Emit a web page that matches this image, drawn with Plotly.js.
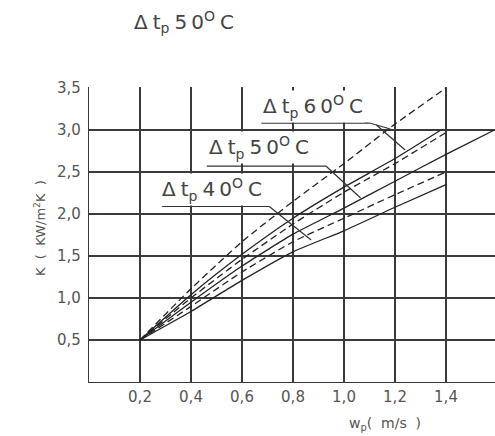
<!DOCTYPE html>
<html>
<head>
<meta charset="utf-8">
<script src="https://cdn.plot.ly/plotly-3.0.1.min.js"></script>
<style>html,body{margin:0;padding:0;background:#fff;}#chart{width:495px;height:436px;}</style>
</head>
<body>
<div id="chart"></div>
<script>
// velocity w_p (m/s)
var xA = [0.2, 0.4, 0.6, 0.8, 1.0, 1.2, 1.4];
var yA = [0.5, 1.11, 1.67, 2.15, 2.60, 3.07, 3.50];   // dashed, top
var xB = [0.2, 0.4, 0.6, 0.8, 1.0, 1.2, 1.38];
var yB = [0.5, 1.04, 1.52, 1.95, 2.32, 2.66, 3.00];   // solid
var xC = [0.2, 0.4, 0.6, 0.8, 1.0, 1.2, 1.4];
var yC = [0.5, 1.00, 1.46, 1.88, 2.26, 2.60, 2.97];   // dashed
var xD = [0.2, 0.4, 0.6, 0.8, 1.0, 1.2, 1.4, 1.59];
var yD = [0.5, 0.95, 1.38, 1.76, 2.07, 2.39, 2.71, 3.00]; // solid
var xE = [0.2, 0.4, 0.6, 0.8, 1.0, 1.2, 1.4];
var yE = [0.5, 0.90, 1.31, 1.67, 1.95, 2.23, 2.50];   // dashed
var xF = [0.2, 0.4, 0.6, 0.8, 1.0, 1.2, 1.4];
var yF = [0.5, 0.84, 1.21, 1.55, 1.80, 2.08, 2.35];   // solid

var xTickVals = [0.2, 0.4, 0.6, 0.8, 1.0, 1.2, 1.4];
var xTickText = ["0,2", "0,4", "0,6", "0,8", "1,0", "1,2", "1,4"];
var yTickVals = [0.5, 1.0, 1.5, 2.0, 2.5, 3.0, 3.5];
var yTickText = ["0,5", "1,0", "1,5", "2,0", "2,5", "3,0", "3,5"];

var ink = "#222";
function tr(x, y, dashed) {
  return {x: x, y: y, mode: "lines", type: "scatter", hoverinfo: "skip",
    line: {color: ink, width: 1.3, shape: "spline", smoothing: 0.5, dash: dashed ? "7px,4px" : "solid"}};
}
var data = [tr(xA, yA, true), tr(xB, yB, false), tr(xC, yC, true),
            tr(xD, yD, false), tr(xE, yE, true), tr(xF, yF, false)];

var fam = "DejaVu Sans, sans-serif";
var lab = {family: fam, size: 20, color: "#444"};
var sp = "\u2005";
function lbl(t) { return "Δ" + sp + "t<sub>p</sub>" + sp + t[0] + "\u2009" + t[1] + "<sup>O</sup>" + sp + "C"; }

function seg(x0, y0, x1, y1) {
  return {type: "line", xref: "x", yref: "y", x0: x0, y0: y0, x1: x1, y1: y1,
    line: {color: "#333", width: 1.2}};
}

var axTick = {family: fam, size: 15, color: "#555"};
var layout = {
  width: 495, height: 436,
  margin: {l: 89, r: 0, t: 87, b: 54, pad: 0},
  paper_bgcolor: "#fff", plot_bgcolor: "#fff",
  showlegend: false,
  title: {text: lbl("50"), font: lab, xref: "container", yref: "container",
    x: 134 / 495, xanchor: "left", y: 1 - 22 / 436, yanchor: "middle"},
  xaxis: {range: [0, 406 / 255], tickvals: xTickVals, ticktext: xTickText,
    showgrid: true, gridcolor: "#3a3a3a", gridwidth: 1.2, zeroline: false,
    showline: true, linecolor: "#3a3a3a", linewidth: 1.2, ticks: "",
    ticklabelstandoff: 1, tickfont: axTick},
  yaxis: {range: [0, 3.5 * 295 / 294], tickvals: yTickVals, ticktext: yTickText,
    showgrid: true, gridcolor: "#3a3a3a", gridwidth: 1.2, zeroline: false,
    showline: true, linecolor: "#3a3a3a", linewidth: 1.2, ticks: "",
    ticklabelstandoff: 4, tickfont: axTick},
  annotations: [
    {text: lbl("60"), x: 0.676, y: 3.274, xref: "x", yref: "y", xanchor: "left", yanchor: "middle", showarrow: false, font: lab, bgcolor: "#fff"},
    {text: lbl("50"), x: 0.462, y: 2.786, xref: "x", yref: "y", xanchor: "left", yanchor: "middle", showarrow: false, font: lab, bgcolor: "#fff"},
    {text: lbl("40"), x: 0.279, y: 2.286, xref: "x", yref: "y", xanchor: "left", yanchor: "middle", showarrow: false, font: lab, bgcolor: "#fff"},
    {text: "K\u00a0 (\u00a0 KW/m<sup>2</sup>K\u00a0 )", x: (40 - 89) / 406, y: (382 - 228) / 295, xref: "paper", yref: "paper",
      textangle: -90, showarrow: false, xanchor: "center", yanchor: "middle",
      font: {family: fam, size: 13, color: "#555"}},
    {text: "w<sub>p</sub>(\u00a0 m/s \u00a0)", x: (385 - 89) / 406, y: (382 - 424) / 295, xref: "paper", yref: "paper",
      showarrow: false, xanchor: "center", yanchor: "middle",
      font: {family: fam, size: 14, color: "#555"}}
  ],
  shapes: [
    seg(0.676, 3.083, 1.100, 3.083), seg(1.100, 3.083, 1.182, 3.012), seg(1.127, 3.060, 1.240, 2.762),
    seg(0.462, 2.571, 0.929, 2.571), seg(0.929, 2.571, 1.065, 2.190),
    seg(0.287, 2.089, 0.707, 2.089), seg(0.707, 2.089, 0.871, 1.690)
  ]
};

Plotly.newPlot("chart", data, layout, {staticPlot: true, displayModeBar: false});
</script>
</body>
</html>
